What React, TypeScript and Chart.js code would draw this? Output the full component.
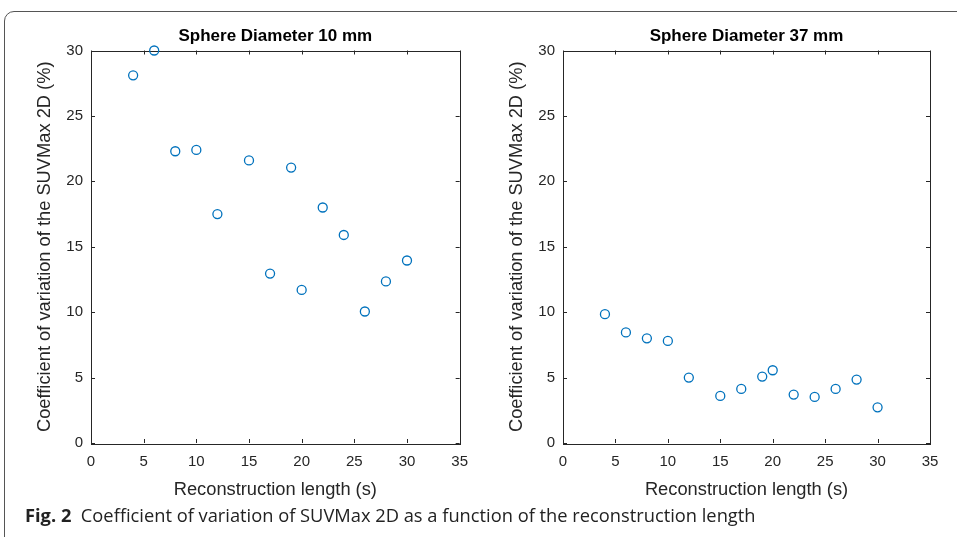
import React, { useEffect, useRef } from "react";
import { Chart, registerables } from "chart.js";

Chart.register(...registerables);

const reconLength10 = [4, 6, 8, 10, 12, 15, 17, 19, 20, 22, 24, 26, 28, 30];
const cv10 = [28.1, 30.0, 22.3, 22.4, 17.5, 21.6, 12.95, 21.05, 11.7, 18.0, 15.9, 10.05, 12.35, 13.95];

const reconLength37 = [4, 6, 8, 10, 12, 15, 17, 19, 20, 22, 24, 26, 28, 30];
const cv37 = [9.85, 8.45, 8.0, 7.8, 5.0, 3.6, 4.13, 5.08, 5.56, 3.7, 3.52, 4.13, 4.85, 2.73];

const xTicks = [0, 5, 10, 15, 20, 25, 30, 35];
const yTicks = [0, 5, 10, 15, 20, 25, 30];

const titles = ["Sphere Diameter 10 mm", "Sphere Diameter 37 mm"];
const xLabel = "Reconstruction length (s)";
const yLabel = "Coefficient of variation of the SUVMax 2D (%)";
const captionBold = "Fig. 2";
const captionText = "Coefficient of variation of SUVMax 2D as a function of the reconstruction length";

const AXIS = "#262626";
const BLUE = "#0072BD";
const FONT = "'Liberation Sans', Arial, sans-serif";

const boxPlugin = {
  id: "matlabBox",
  beforeDatasetsDraw(chart: any, _args: any, opts: any) {
    const { ctx, chartArea: a, scales } = chart;
    const x = scales.x;
    const y = scales.y;
    const tl = 4;
    ctx.save();
    ctx.strokeStyle = AXIS;
    ctx.lineWidth = 1;
    ctx.strokeRect(Math.round(a.left) + 0.5, Math.round(a.top) + 0.5, Math.round(a.right - a.left), Math.round(a.bottom - a.top));
    ctx.beginPath();
    x.ticks.forEach((t: any) => {
      const px = Math.round(x.getPixelForValue(t.value)) + 0.5;
      ctx.moveTo(px, a.bottom);
      ctx.lineTo(px, a.bottom - tl);
      ctx.moveTo(px, a.top);
      ctx.lineTo(px, a.top + tl);
    });
    y.ticks.forEach((t: any) => {
      const py = Math.round(y.getPixelForValue(t.value)) + 0.5;
      ctx.moveTo(a.left, py);
      ctx.lineTo(a.left + tl, py);
      ctx.moveTo(a.right, py);
      ctx.lineTo(a.right - tl, py);
    });
    ctx.stroke();
    // plot title centred over the axes box
    ctx.fillStyle = "#000";
    ctx.font = "bold 17px " + FONT;
    ctx.textAlign = "center";
    ctx.textBaseline = "middle";
    ctx.fillText(opts.text, (a.left + a.right) / 2, a.top - 14.5);
    ctx.restore();
  },
};

function ScatterPanel(props: {
  xs: number[];
  ys: number[];
  title: string;
  left: number;
  width: number;
  padLeft: number;
  padRight: number;
}) {
  const ref = useRef<HTMLCanvasElement>(null);
  useEffect(() => {
    if (!ref.current) return;
    const data = props.xs.map((x, i) => ({ x, y: props.ys[i] }));
    const chart = new Chart(ref.current, {
      type: "scatter",
      data: {
        datasets: [
          {
            data,
            pointRadius: 4.5,
            pointHoverRadius: 4.5,
            pointBorderWidth: 1.3,
            pointBorderColor: BLUE,
            pointBackgroundColor: "rgba(0,0,0,0)",
            borderColor: BLUE,
            backgroundColor: "rgba(0,0,0,0)",
            clip: false,
          } as any,
        ],
      },
      options: {
        animation: false,
        responsive: false,
        maintainAspectRatio: false,
        layout: { padding: { left: props.padLeft, right: props.padRight, top: 50.5, bottom: 0 } },
        plugins: {
          legend: { display: false },
          tooltip: { enabled: false },
          title: { display: false },
          matlabBox: { text: props.title },
        } as any,
        scales: {
          x: {
            type: "linear",
            min: 0,
            max: 35,
            afterBuildTicks: (s: any) => {
              s.ticks = xTicks.map((v) => ({ value: v }));
            },
            afterFit: (s: any) => {
              s.height = 67;
            },
            grid: { display: false, drawTicks: false },
            border: { display: false },
            ticks: { color: AXIS, font: { family: FONT, size: 15 }, padding: 10, maxRotation: 0 },
            title: {
              display: true,
              text: xLabel,
              color: AXIS,
              font: { family: FONT, size: 18.3 },
              padding: { top: 0, bottom: 9 },
            },
          },
          y: {
            type: "linear",
            min: 0,
            max: 30,
            afterBuildTicks: (s: any) => {
              s.ticks = yTicks.map((v) => ({ value: v }));
            },
            afterFit: (s: any) => {
              s.width = 91 - 34;
            },
            grid: { display: false, drawTicks: false },
            border: { display: false },
            ticks: { color: AXIS, font: { family: FONT, size: 15 }, padding: 8 },
            title: {
              display: true,
              text: yLabel,
              color: AXIS,
              font: { family: FONT, size: 18.3 },
              padding: 0,
            },
          },
        },
      },
      plugins: [boxPlugin],
    });
    return () => chart.destroy();
  }, []);
  return (
    <canvas
      ref={ref}
      width={props.width}
      height={510}
      style={{ position: "absolute", left: props.left, top: 0, width: props.width, height: 510 }}
    />
  );
}

export default function App() {
  useEffect(() => {
    document.body.style.margin = "0";
    document.body.style.background = "#fff";
  }, []);
  return (
    <div style={{ position: "relative", width: 957, height: 537, overflow: "hidden", background: "#fff" }}>
      <div
        style={{
          position: "absolute",
          left: 4,
          top: 11,
          width: 1000,
          height: 600,
          border: "1px solid #555",
          borderRadius: 10,
          boxSizing: "border-box",
        }}
      />
      <ScatterPanel xs={reconLength10} ys={cv10} title={titles[0]} left={0} width={478} padLeft={34} padRight={18} />
      <ScatterPanel xs={reconLength37} ys={cv37} title={titles[1]} left={478} width={479} padLeft={28} padRight={27} />
      <div
        style={{
          position: "absolute",
          left: 25,
          top: 504,
          fontFamily: "'Open Sans', sans-serif",
          fontSize: 18.3,
          color: "#222",
          whiteSpace: "nowrap",
          lineHeight: "22px",
        }}
      >
        <b>{captionBold}</b>
        {"\u00a0\u00a0" + captionText}
      </div>
    </div>
  );
}
